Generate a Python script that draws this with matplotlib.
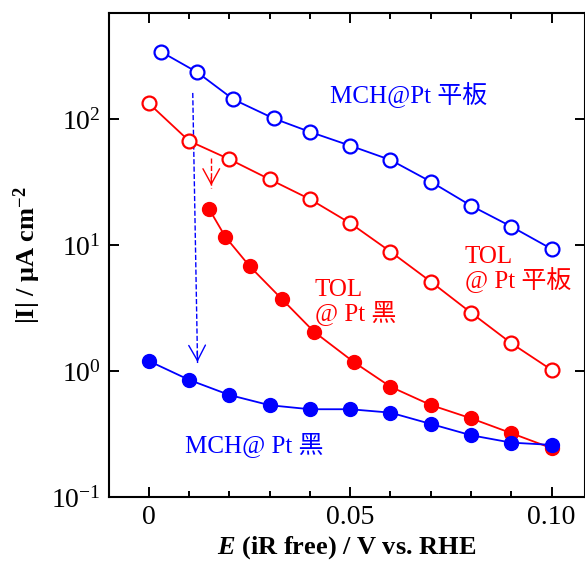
import matplotlib
matplotlib.use("Agg")
import matplotlib.pyplot as plt
from matplotlib.ticker import LogLocator, MultipleLocator, FixedFormatter, FixedLocator

plt.rcParams['font.family'] = ['Liberation Serif', 'Noto Sans CJK JP']
plt.rcParams['mathtext.fontset'] = 'custom'
plt.rcParams['mathtext.rm'] = 'Liberation Serif'
plt.rcParams['mathtext.it'] = 'Liberation Serif:italic'
plt.rcParams['mathtext.bf'] = 'Liberation Serif:bold'
plt.rcParams['mathtext.bfit'] = 'Liberation Serif:italic:bold'

# MCH on flat Pt (open blue)
mch_flat_x = [0.003, 0.012, 0.021, 0.031, 0.040, 0.050, 0.060, 0.070, 0.080, 0.090, 0.100]
mch_flat_y = [342, 235, 143, 101, 79, 61.4, 47.3, 31.8, 20.5, 14.0, 9.3]

# TOL on flat Pt (open red)
tol_flat_x = [0.000, 0.010, 0.020, 0.030, 0.040, 0.050, 0.060, 0.070, 0.080, 0.090, 0.100]
tol_flat_y = [133, 66.9, 47.9, 33.2, 23.1, 14.9, 8.85, 5.12, 2.90, 1.66, 1.02]

# TOL on Pt black (filled red)
tol_black_x = [0.015, 0.019, 0.025, 0.033, 0.041, 0.051, 0.060, 0.070, 0.080, 0.090, 0.100]
tol_black_y = [19.2, 11.6, 6.8, 3.73, 2.05, 1.17, 0.75, 0.537, 0.421, 0.321, 0.244]

# MCH on Pt black (filled blue)
mch_black_x = [0.000, 0.010, 0.020, 0.030, 0.040, 0.050, 0.060, 0.070, 0.080, 0.090, 0.100]
mch_black_y = [1.20, 0.85, 0.645, 0.535, 0.497, 0.497, 0.467, 0.380, 0.309, 0.270, 0.259]

BLUE = '#0000ff'
RED = '#ff0000'

fig = plt.figure(figsize=(5.85, 5.62), dpi=100)
ax = fig.add_axes([0.1863, 0.1157, 0.8130, 0.8612])

ax.plot(mch_flat_x, mch_flat_y, '-o', color=BLUE, lw=1.3, ms=10,
        mfc='white', mec=BLUE, mew=1.6, zorder=3)
ax.plot(tol_flat_x, tol_flat_y, '-o', color=RED, lw=1.3, ms=10,
        mfc='white', mec=RED, mew=1.6, zorder=3)
ax.plot(tol_black_x, tol_black_y, '-o', color=RED, lw=1.3, ms=10,
        mfc=RED, mec=RED, zorder=3)
ax.plot(mch_black_x, mch_black_y, '-o', color=BLUE, lw=1.3, ms=10,
        mfc=BLUE, mec=BLUE, zorder=4)

# dashed arrows (dashed shaft, solid open head)
ax.plot([0.0109, 0.0121], [161, 1.12], ls='--', color=BLUE, lw=1.0, zorder=2)
ax.annotate('', xy=(0.0121, 1.12), xytext=(0.0120, 1.5),
            arrowprops=dict(arrowstyle='->,head_length=1.1,head_width=0.6',
                            color=BLUE, lw=1.0), zorder=2)
ax.plot([0.0155, 0.0155], [48.7, 28.2], ls='--', color=RED, lw=1.0, zorder=2)
ax.annotate('', xy=(0.0155, 28.2), xytext=(0.0155, 36),
            arrowprops=dict(arrowstyle='->,head_length=1.1,head_width=0.6',
                            color=RED, lw=1.0), zorder=2)

ax.text(0.0450, 155, 'MCH@Pt 平板', color=BLUE, fontsize=18, va='center')
ax.text(0.0785, 6.4, 'TOL\n@ Pt 平板', color=RED, fontsize=18, va='center',
        linespacing=0.95)
ax.text(0.0412, 3.5, 'TOL\n@ Pt 黑', color=RED, fontsize=18, va='center',
        linespacing=0.95)
ax.text(0.0090, 0.259, 'MCH@ Pt 黑', color=BLUE, fontsize=18, va='center')

ax.set_yscale('log')
ax.set_xlim(-0.0099, 0.1082)
ax.set_ylim(0.1, 694)

ax.xaxis.set_major_locator(FixedLocator([0, 0.05, 0.10]))
ax.xaxis.set_major_formatter(FixedFormatter(['0', '0.05', '0.10']))
ax.xaxis.set_minor_locator(MultipleLocator(0.01))
ax.yaxis.set_major_locator(LogLocator(base=10, numticks=10))
ax.yaxis.set_minor_locator(FixedLocator([]))

ax.tick_params(which='both', direction='in', top=True, right=True,
               labelsize=20, width=1.4)
ax.tick_params(which='major', length=7.5, pad=6)
ax.tick_params(which='minor', length=4)
for s in ax.spines.values():
    s.set_linewidth(1.5)

ax.set_xlabel(r'$\mathbfit{E}$ (iR free) / V vs. RHE', fontsize=19,
              fontweight='bold', labelpad=3)
ax.set_ylabel(r'|I| / μA cm$^{\mathbf{-2}}$', fontsize=19,
              fontweight='bold', labelpad=6)

fig.savefig('out.png', dpi=100)
